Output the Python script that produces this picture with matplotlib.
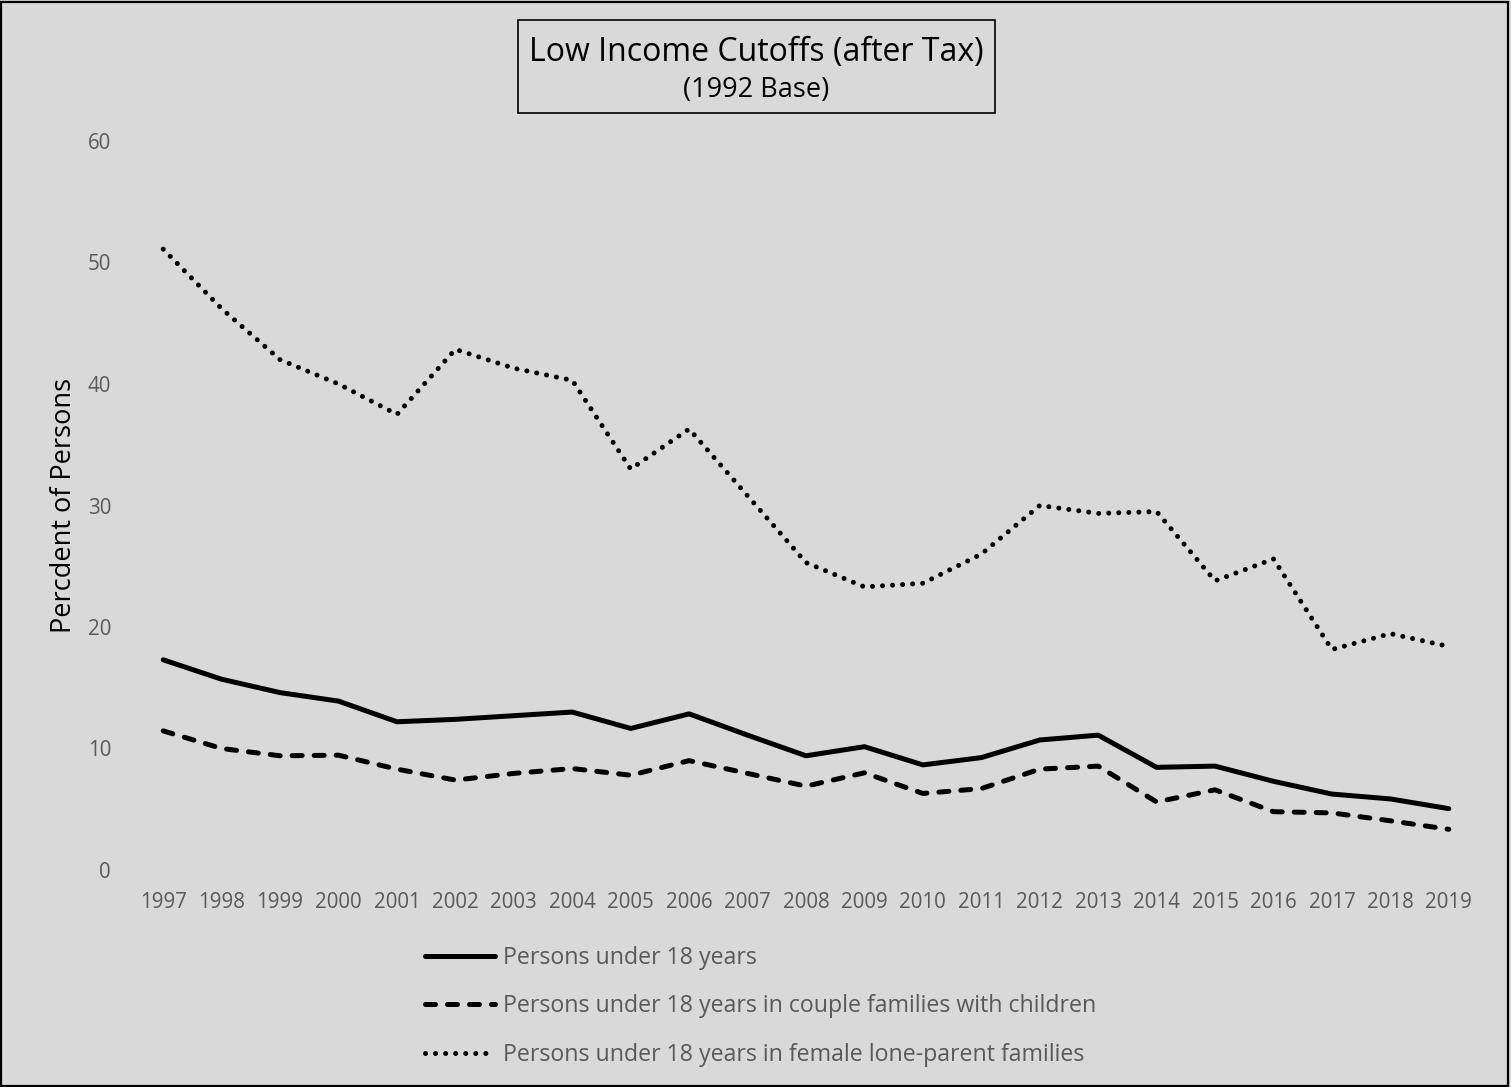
import matplotlib
matplotlib.use("Agg")
import matplotlib.pyplot as plt
from matplotlib.patches import Rectangle

years = ["1997", "1998", "1999", "2000", "2001", "2002", "2003", "2004", "2005", "2006", "2007",
         "2008", "2009", "2010", "2011", "2012", "2013", "2014", "2015", "2016", "2017", "2018", "2019"]
under18 = [17.3, 15.7, 14.6, 13.9, 12.2, 12.4, 12.7, 13.0, 11.65, 12.85, 11.1,
           9.4, 10.15, 8.65, 9.25, 10.7, 11.1, 8.45, 8.55, 7.3, 6.25, 5.85, 5.05]
couple = [11.45, 10.0, 9.4, 9.45, 8.3, 7.4, 7.95, 8.35, 7.8, 9.0, 7.95,
          6.9, 8.0, 6.3, 6.7, 8.3, 8.55, 5.6, 6.6, 4.8, 4.7, 4.05, 3.35]
lone_parent = [51.1, 46.2, 42.0, 40.0, 37.5, 42.85, 41.3, 40.3, 33.0, 36.3, 30.8,
               25.3, 23.3, 23.6, 26.0, 30.0, 29.35, 29.5, 23.8, 25.6, 18.15, 19.45, 18.4]
labels = ["Persons under 18 years",
          "Persons under 18 years in couple families with children",
          "Persons under 18 years in female lone-parent families"]
yticks = [0, 10, 20, 30, 40, 50, 60]

FONT = "Open Sans"
GRAY = "#595959"
BG = "#D9D9D9"
W, H = 1511, 1087

fig = plt.figure(figsize=(W / 100, H / 100), dpi=100, facecolor=BG)
ax = fig.add_axes([134 / W, 1 - 870 / H, (1478 - 134) / W, (870 - 141) / H])
ax.set_facecolor(BG)

x = list(range(len(years)))
lw = 3.6
l1, = ax.plot(x, under18, color="black", lw=lw, solid_capstyle="round", solid_joinstyle="round")
l2, = ax.plot(x, couple, color="black", lw=lw, linestyle=(0, (2.0, 2.4)),
              dash_capstyle="round", dash_joinstyle="round")
l3, = ax.plot(x, lone_parent, color="black", lw=lw, linestyle=(0, (0.01, 2.0)),
              dash_capstyle="round", dash_joinstyle="round")

ax.set_xlim(-0.5, len(years) - 0.5)
ax.set_ylim(0, 60)
ax.set_xticks(x)
ax.set_xticklabels(years, fontfamily=FONT, fontsize=14.8, color=GRAY)
ax.set_yticks(yticks)
ax.set_yticklabels([str(v) for v in yticks], fontfamily=FONT, fontsize=14.8, color=GRAY)
ax.tick_params(axis="both", length=0)
ax.tick_params(axis="x", pad=15.5)
ax.tick_params(axis="y", pad=16.5)
for s in ax.spines.values():
    s.set_visible(False)

ax.set_ylabel("Percdent of Persons", fontfamily=FONT, fontsize=19.5, color="black")
ax.yaxis.set_label_coords((64 - 134) / (1478 - 134), 0.5)
ax.yaxis.label.set_va("center")

# Title box
fig.patches.append(Rectangle((518 / W, 1 - 113 / H), (995 - 518) / W, (113 - 20) / H,
                             transform=fig.transFigure, facecolor="none", edgecolor="black", lw=1.2))
fig.text(756.5 / W, 1 - 52 / H, "Low Income Cutoffs (after Tax)", ha="center", va="center",
         fontfamily=FONT, fontsize=23, color="black")
fig.text(756.5 / W, 1 - 90 / H, "(1992 Base)", ha="center", va="center",
         fontfamily=FONT, fontsize=19.5, color="black")

# Figure border
fig.patches.append(Rectangle((1 / W, 1 / H), 1 - 4 / W, 1 - 2.5 / H,
                             transform=fig.transFigure, facecolor="none", edgecolor="black", lw=1.6))

leg = fig.legend([l1, l2, l3], labels, loc="upper left",
                 bbox_to_anchor=(425 / W, 1 - 946 / H), bbox_transform=fig.transFigure,
                 frameon=False, borderpad=0, borderaxespad=0, handlelength=3.0,
                 handletextpad=0.35, labelspacing=1.05,
                 prop={"family": FONT, "size": 16.7})
for t in leg.get_texts():
    t.set_color(GRAY)

fig.savefig("out.png", dpi=100, facecolor=BG)
